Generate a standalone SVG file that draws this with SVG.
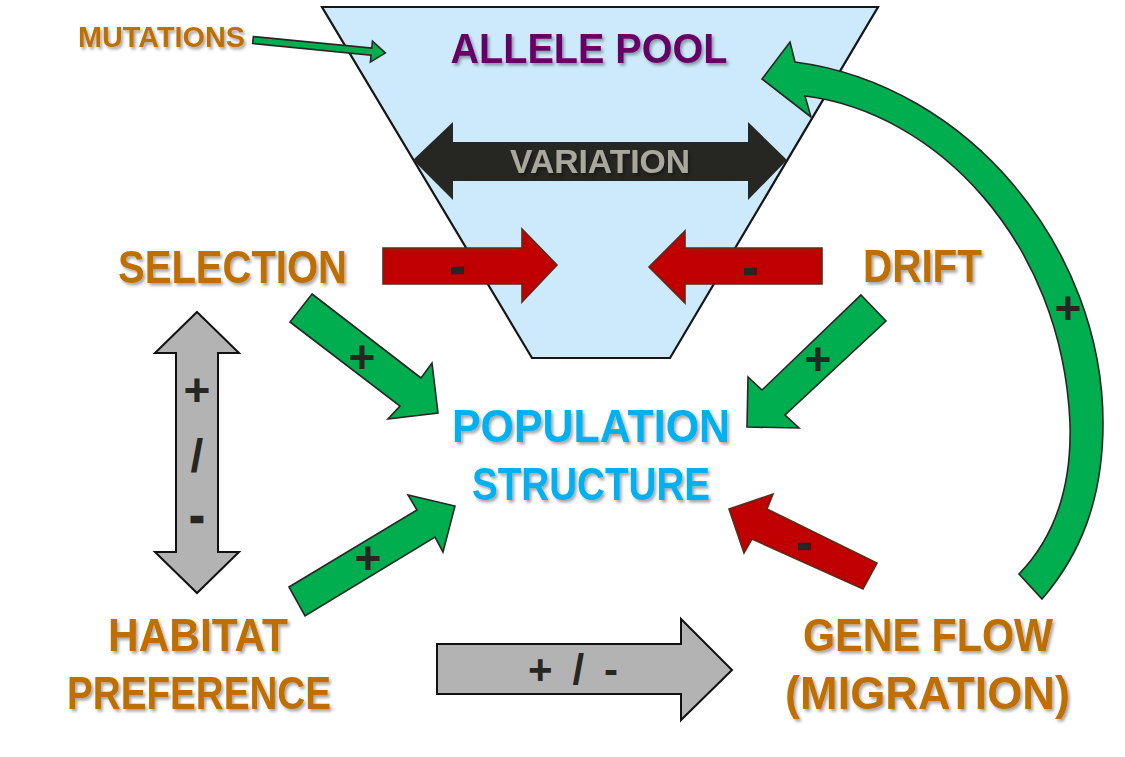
<svg xmlns="http://www.w3.org/2000/svg" width="1125" height="757" viewBox="0 0 1125 757">
  <defs>
    <filter id="shadow" x="-10%" y="-20%" width="130%" height="150%">
      <feDropShadow dx="2" dy="2.5" stdDeviation="1.5" flood-color="#000" flood-opacity="0.35"/>
    </filter>
  </defs>
  <style>
    .lbl { font-family: "Liberation Sans", Arial, sans-serif; font-weight: bold; text-anchor: middle; filter: url(#shadow); }
    .orange { fill: #bf6e00; }
    .sign { font-family: "Liberation Sans", Arial, sans-serif; font-weight: bold; text-anchor: middle; fill: #262622; }
    .minus { stroke: #262622; stroke-width: 2.6; }
    .green { fill: #00ae4f; stroke: #262626; stroke-width: 1.6; stroke-linejoin: miter; }
    .red { fill: #c00000; stroke: #5e2a1a; stroke-width: 1.6; }
    .grey { fill: #b3b3b3; stroke: #111; stroke-width: 2; }
  </style>
  <rect width="1125" height="757" fill="#ffffff"/>

  <g id="allele-pool">
    <polygon points="322,7 878,7 670,358 532,358" fill="#cceafc" stroke="#161616" stroke-width="2.2"/>
    <text class="lbl" x="589" y="63" font-size="43" fill="#660066" textLength="277" lengthAdjust="spacingAndGlyphs">ALLELE POOL</text>
  </g>

  <g id="variation">
    <polygon points="413,160 453,122 453,142 748,142 748,122 787,160 748,200 748,181 453,181 453,200" fill="#262622"/>
    <text class="lbl" x="600" y="173" font-size="34" fill="#a8a89e" textLength="180" lengthAdjust="spacingAndGlyphs">VARIATION</text>
  </g>

  <g id="mutations">
    <text class="lbl orange" x="161.5" y="47" font-size="29" textLength="167" lengthAdjust="spacingAndGlyphs">MUTATIONS</text>
  </g>

  <g id="selection">
    <text class="lbl orange" x="232.5" y="283" font-size="46" textLength="229" lengthAdjust="spacingAndGlyphs">SELECTION</text>
  </g>

  <g id="drift">
    <text class="lbl orange" x="922.5" y="282" font-size="46" textLength="119" lengthAdjust="spacingAndGlyphs">DRIFT</text>
  </g>

  <g id="population-structure">
    <text class="lbl" x="591" y="442" font-size="47" fill="#00b0f0" textLength="278" lengthAdjust="spacingAndGlyphs">POPULATION</text>
    <text class="lbl" x="591" y="500" font-size="47" fill="#00b0f0" textLength="238" lengthAdjust="spacingAndGlyphs">STRUCTURE</text>
  </g>

  <g id="habitat-preference">
    <text class="lbl orange" x="198" y="651" font-size="46" textLength="180" lengthAdjust="spacingAndGlyphs">HABITAT</text>
    <text class="lbl orange" x="199" y="709" font-size="46" textLength="264" lengthAdjust="spacingAndGlyphs">PREFERENCE</text>
  </g>

  <g id="gene-flow">
    <text class="lbl orange" x="928" y="651" font-size="46" textLength="250" lengthAdjust="spacingAndGlyphs">GENE FLOW</text>
    <text class="lbl orange" x="927.5" y="709" font-size="46" textLength="285" lengthAdjust="spacingAndGlyphs">(MIGRATION)</text>
  </g>

  <g id="connectors">
    <!-- mutations -> allele pool -->
    <polygon class="green" transform="translate(253,40) rotate(5.6)" points="0,-3.5 119,-3.5 119,-10.5 133,0 119,10.5 119,3.5 0,3.5"/>

    <!-- selection -> variation (red) -->
    <polygon class="red" points="383,248 522,248 522,229 557,265 522,302 522,284 383,284"/>
    <text class="sign minus" x="457" y="281" font-size="40">-</text>

    <!-- drift -> variation (red) -->
    <polygon class="red" points="822,248 685,248 685,231 649,267 685,303 685,284 822,284"/>
    <text class="sign minus" x="750" y="282" font-size="40">-</text>

    <!-- selection -> population structure -->
    <polygon class="green" points="312,294 421,378 432,363 438,413 388,419 400,406 290,322"/>
    <text class="sign" x="362" y="373" font-size="46">+</text>

    <!-- drift -> population structure -->
    <polygon class="green" points="861,295 886,321 785,415 799,428 747,427 748,377 762,390"/>
    <text class="sign" x="818" y="375" font-size="46">+</text>

    <!-- habitat preference -> population structure -->
    <polygon class="green" points="289,587 417,510 408,495 455,506 443,552 435,537 305,616"/>
    <text class="sign" x="368" y="574" font-size="46">+</text>

    <!-- gene flow -> population structure (red) -->
    <polygon class="red" points="877,563 863,589 752,539 744,553 729,509 773,494 767,509"/>
    <text class="sign minus" x="804" y="557" font-size="40">-</text>

    <!-- gene flow -> allele pool (curved) -->
    <path class="green" d="M1042,599 C1080,555 1103,500 1103,423 C1103,250 970,85 795,62 L790,42 L762,79 L811,117 L805,96 C935,112 1062,240 1070,423 C1072,490 1052,540 1019,574 Z"/>
    <text class="sign" x="1068" y="324" font-size="46">+</text>

    <!-- selection <-> habitat preference -->
    <polygon class="grey" points="197,312 239,353 218,353 218,552 239,552 197,593 155,552 176,552 176,353 155,353"/>
    <text class="sign" x="197" y="406" font-size="46">+</text>
    <text class="sign" x="197" y="472" font-size="46" font-weight="normal">/</text>
    <text class="sign minus" x="197" y="530" font-size="40">-</text>

    <!-- habitat preference -> gene flow -->
    <polygon class="grey" points="437,644 681,644 681,619 732,670 681,720 681,694 437,694"/>
    <text class="sign" x="573" y="684" font-size="42" textLength="90">+ / -</text>
  </g>
</svg>
